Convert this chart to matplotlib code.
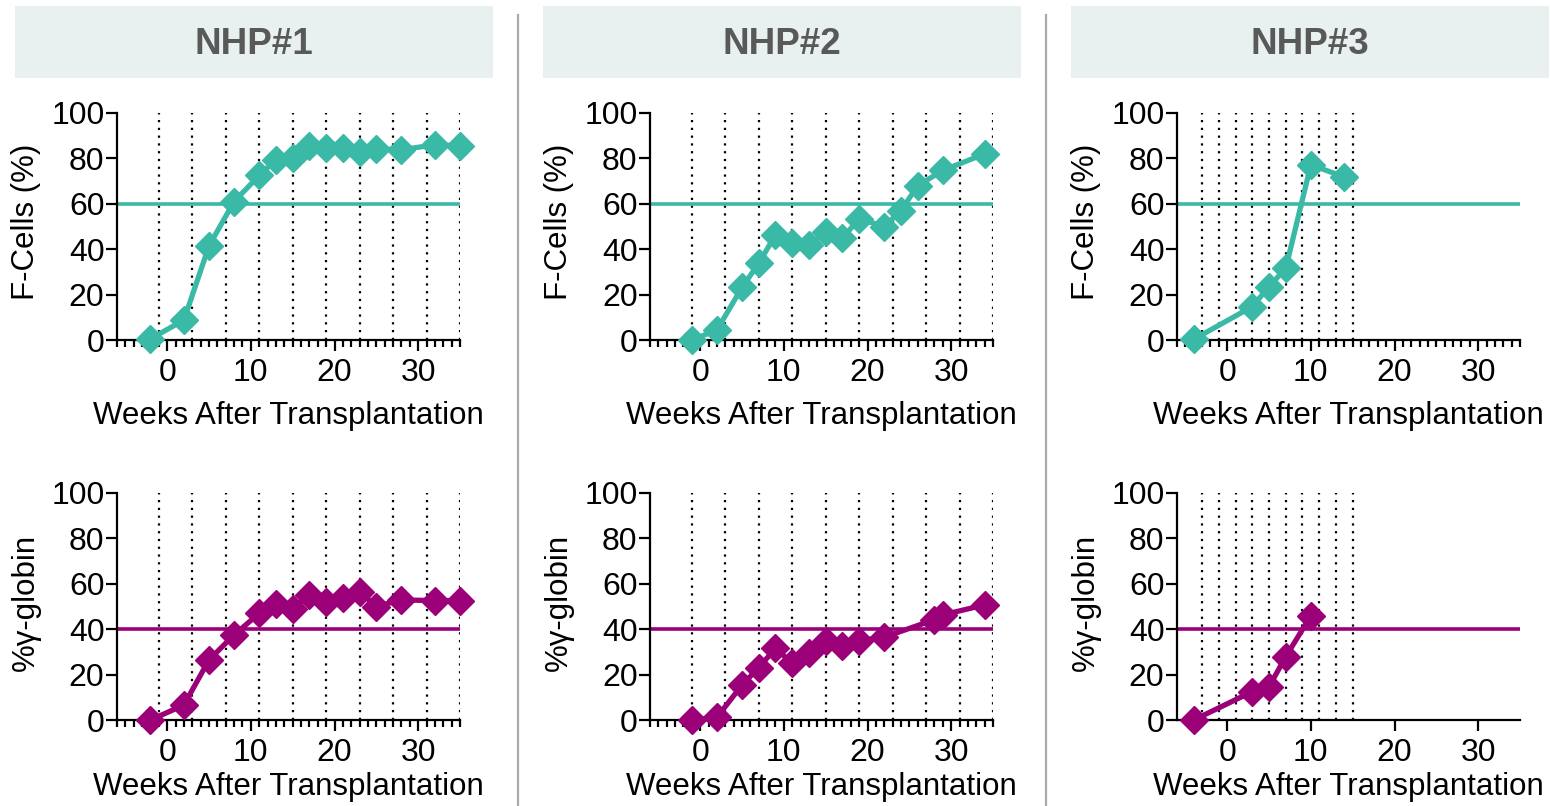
import matplotlib
matplotlib.use("Agg")
import matplotlib.pyplot as plt
from matplotlib.patches import Rectangle
from matplotlib.lines import Line2D
from matplotlib.ticker import MultipleLocator, NullLocator

plt.rcParams['font.family'] = ['Liberation Sans', 'DejaVu Sans']

# Data
titles = ['NHP#1', 'NHP#2', 'NHP#3']

nhp1_weeks = [-2, 2, 5, 8, 11, 13, 15, 17, 19, 21, 23, 25, 28, 32, 35]
nhp1_fcells = [0.5, 8.8, 41.5, 61, 72.5, 79.4, 80, 85.5, 84.5, 84.5, 82.8, 84.3, 83.8, 86, 85.6]
nhp1_gamma = [0, 6.6, 26.5, 37.5, 47, 51.2, 49, 55, 52.2, 53.7, 56.5, 50, 52.9, 52.6, 52.6]

nhp2_fc_weeks = [-1, 2, 5, 7, 9, 11, 13, 15, 17, 19, 22, 24, 26, 29, 34]
nhp2_fcells = [0, 4.4, 23.2, 33.8, 46.3, 42.6, 41.9, 47.4, 44.9, 53.4, 50, 57, 68, 74.7, 82]
nhp2_gg_weeks = [-1, 2, 5, 7, 9, 11, 13, 15, 17, 19, 22, 28, 29, 34]
nhp2_gamma = [0, 1.2, 15.4, 23.1, 31.6, 25, 29.4, 35, 32.8, 34.9, 36.5, 44.2, 46.3, 50.7]

nhp3_fc_weeks = [-4, 3, 5, 7, 10, 14]
nhp3_fcells = [0.3, 14.7, 23.5, 31.6, 77.2, 71.8]
nhp3_gg_weeks = [-4, 3, 5, 7, 10]
nhp3_gamma = [0, 12.5, 14.7, 27.9, 45.9]

# sampling marks (dotted verticals)
marks_12 = [-1, 3, 7, 11, 15, 19, 23, 27, 31, 35]
marks_3 = [-3, -1, 1, 3, 5, 7, 9, 11, 13, 15]

fc_threshold = 60
gg_threshold = 40

TEAL = '#3ab9a6'
MAGENTA = '#9b0079'

W, H = 1550, 806
fig = plt.figure(figsize=(W / 100, H / 100), dpi=100)


def px_axes(x0, y0, x1, y1):
    # pixel box (top-left origin) -> figure axes
    return fig.add_axes([x0 / W, 1 - y1 / H, (x1 - x0) / W, (y1 - y0) / H])


def draw_panel(ax, weeks, values, color, threshold, marks, ylabel, minor=True, xpad=9):
    ax.set_xlim(-6, 35)
    ax.set_ylim(0, 100)
    ax.vlines(marks, 0, 100, colors='black', linestyles=(0, (1, 2.5)), linewidth=1.6, zorder=1)
    ax.axhline(threshold, color=color, linewidth=2.6, zorder=2)
    ax.plot(weeks, values, color=color, linewidth=3.8, marker='D', markersize=14,
            clip_on=False, zorder=5)
    for s in ['top', 'right']:
        ax.spines[s].set_visible(False)
    for s in ['left', 'bottom']:
        ax.spines[s].set_linewidth(1.6)
    ax.xaxis.set_major_locator(MultipleLocator(10))
    if minor:
        ax.xaxis.set_minor_locator(MultipleLocator(1))
    else:
        ax.xaxis.set_minor_locator(NullLocator())
    ax.yaxis.set_major_locator(MultipleLocator(20))
    ax.tick_params(axis='both', which='major', labelsize=23, width=1.6, length=8, pad=5)
    ax.tick_params(axis='x', which='minor', width=1.6, length=5)
    ax.tick_params(axis='y', pad=1)
    ax.set_xlabel('Weeks After Transplantation', fontsize=22.5, labelpad=xpad)
    ax.set_ylabel(ylabel, fontsize=22.5)
    ax.yaxis.set_label_coords(-0.222, 0.52)


panels = [
    (117, nhp1_weeks, nhp1_fcells, nhp1_weeks, nhp1_gamma, marks_12, True),
    (650, nhp2_fc_weeks, nhp2_fcells, nhp2_gg_weeks, nhp2_gamma, marks_12, True),
    (1177, nhp3_fc_weeks, nhp3_fcells, nhp3_gg_weeks, nhp3_gamma, marks_3, False),
]

for i, (x0, fw, fv, gw, gv, marks, low_minor) in enumerate(panels):
    ax_top = px_axes(x0, 113, x0 + 343, 340)
    draw_panel(ax_top, fw, fv, TEAL, fc_threshold, marks, 'F-Cells (%)')
    ax_bot = px_axes(x0, 493, x0 + 343, 720)
    draw_panel(ax_bot, gw, gv, MAGENTA, gg_threshold, marks, '%γ-globin',
               minor=low_minor, xpad=3)

    # header box
    hx0 = 15 + i * 528
    fig.patches.append(Rectangle((hx0 / W, 1 - 78 / H), 478 / W, 72 / H,
                                 transform=fig.transFigure, facecolor='#e8f1f0',
                                 edgecolor='none', zorder=0))
    fig.text((hx0 + 239) / W, 1 - 44 / H, titles[i], ha='center', va='center',
             fontsize=26.5, fontweight='bold', color='#595959')

# separators between animals
for sx in [518, 1046]:
    fig.add_artist(Line2D([sx / W, sx / W], [0, 1 - 15 / H], transform=fig.transFigure,
                          color='#aaaaaa', linewidth=1.6))

fig.savefig('out.png', dpi=100)
